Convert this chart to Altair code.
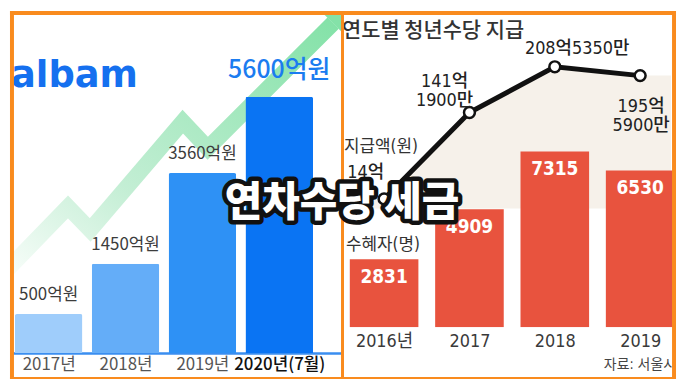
import altair as alt
import pandas as pd

# ---------------- data ----------------
# left panel (알바몬 연차수당 규모)
left_years = ["2017년", "2018년", "2019년", "2020년(7월)"]
left_values = [500, 1450, 3560, 5600]
left_labels = ["500억원", "1450억원", "3560억원", "5600억원"]
left_colors = ["#9fcdfb", "#64adf8", "#2e91f5", "#0a74f3"]

# decorative trend arrow (x in bar-index units, y as share of panel height)
arrow_x = [-0.540, 0.251, 0.540, 1.745, 2.070, 3.701]
arrow_y = [0.244, 0.427, 0.360, 0.677, 0.599, 0.965]
arrow_head_x = [3.832]
arrow_head_y = [0.995]

# right panel (연도별 청년수당 지급)
right_years = ["2016년", "2017", "2018", "2019"]
recipients = [2831, 4909, 7315, 6530]            # 수혜자(명)
amounts = [14, 141.19, 208.535, 195.59]           # 지급액(억원)
amount_labels = ["14억", "141억\n1900만", "208억5350만", "195억\n5900만"]
shade_x = [-0.435, 0, 1, 2, 3, 3.362]
shade_y = [14, 14, 141.19, 208.535, 195.59, 195.59]

KR = "Noto Sans CJK KR"
NARROW = "'Liberation Sans Narrow', 'DejaVu Sans Condensed', 'Noto Sans CJK KR', sans-serif"
ORANGE = "#f98b1e"

# ---------------- left panel ----------------
LW, LH = 334, 344
LX = alt.Scale(domain=[-0.439, 3.752], nice=False, zero=False)
ldf = pd.DataFrame({"i": list(range(4)), "year": left_years, "v": left_values, "lab": left_labels})
ybar_l = alt.Scale(type="pow", exponent=0.78, domain=[0, 8104], nice=False)

lexpr = "[" + ",".join("'%s'" % y for y in left_years) + "][datum.value]"
xaxis_left = alt.Axis(
    orient="bottom", values=[0, 1, 2, 3], labelExpr=lexpr, grid=False, ticks=False,
    domainColor="#3a8ef0", domainWidth=2.5, labelFontSize=17, labelFont=KR,
    labelColor={"condition": {"test": "datum.value == 3", "value": "#111111"}, "value": "#555555"},
    labelFontWeight={"condition": {"test": "datum.value == 3", "value": 500}, "value": 400},
    labelPadding=4, labelOverlap=False, labelBound=False, labelFlush=False,
)


def lx(field, axis=False):
    if axis:
        return alt.X(field, scale=LX, axis=xaxis_left, title=None)
    return alt.X(field, scale=LX, title=None)


adf = pd.DataFrame({"x": arrow_x, "y": arrow_y, "o": list(range(len(arrow_x)))})
grad = alt.Gradient(
    gradient="linear",
    stops=[alt.GradientStop(color="#f7fdf9", offset=0),
           alt.GradientStop(color="#c3eed4", offset=0.35),
           alt.GradientStop(color="#84e2a8", offset=1)],
    x1=0, y1=1, x2=1, y2=0,
)
yarrow = alt.Scale(domain=[0, 1], nice=False)
arrow = alt.Chart(adf).mark_line(strokeWidth=16, clip=True, strokeJoin="miter", strokeCap="butt", color=grad).encode(
    x=lx("x:Q"),
    y=alt.Y("y:Q", scale=yarrow, axis=None),
    order="o:Q",
)
head = alt.Chart(pd.DataFrame({"x": arrow_head_x, "y": arrow_head_y})).mark_point(
    shape="triangle-up", filled=True, size=1156, angle=45, color="#84e2a8", opacity=1, clip=True
).encode(x=lx("x:Q"), y=alt.Y("y:Q", scale=yarrow, axis=None))

bars_l = alt.Chart(ldf).mark_bar(size=68, cornerRadiusTopLeft=2, cornerRadiusTopRight=2).encode(
    x=lx("i:Q", axis=True),
    y=alt.Y("v:Q", scale=ybar_l, axis=None),
    color=alt.Color("year:N", scale=alt.Scale(domain=left_years, range=left_colors), legend=None),
)
labs_l = alt.Chart(ldf).transform_filter("datum.i < 3").mark_text(
    baseline="middle", dy=-19, fontSize=17, font=KR, color="#3c3c3c"
).encode(x=lx("i:Q"), y=alt.Y("v:Q", scale=ybar_l, axis=None), text="lab:N")
big_l = alt.Chart(ldf).transform_filter("datum.i == 3").mark_text(
    baseline="middle", dy=-27, fontSize=25, fontWeight=500, font=KR, color="#1b7cf0"
).encode(x=lx("i:Q"), y=alt.Y("v:Q", scale=ybar_l, axis=None), text="lab:N")

one = pd.DataFrame({"t": ["albam"]})
logo = alt.Chart(one).mark_text(
    align="left", baseline="alphabetic", fontSize=37, fontWeight="bold", font="DejaVu Sans",
    color="#1570ef"
).encode(x=alt.value(1), y=alt.value(76), text="t:N")

dummy = pd.DataFrame({"a": [0]})
fl1 = alt.Chart(dummy).mark_rule(color=ORANGE, strokeWidth=4).encode(x=alt.value(2), y=alt.value(0), y2=alt.value(370))
fl2 = alt.Chart(dummy).mark_rule(color=ORANGE, strokeWidth=4).encode(x=alt.value(0), x2=alt.value(LW), y=alt.value(2))
fl3 = alt.Chart(dummy).mark_rule(color=ORANGE, strokeWidth=2).encode(x=alt.value(0), x2=alt.value(LW), y=alt.value(369))

left = alt.layer(arrow, head, bars_l, labs_l, big_l, logo, fl1, fl2, fl3).resolve_scale(
    y="independent"
).properties(width=LW, height=LH)

# ---------------- right panel ----------------
RW, RH = 336, 318
RX = alt.Scale(domain=[-0.435, 3.362], nice=False, zero=False)
rdf = pd.DataFrame({"i": list(range(4)), "year": right_years, "n": recipients,
                    "amt": amounts, "alab": amount_labels})
ybar_r = alt.Scale(domain=[0, 13165], nice=False)
yline = alt.Scale(domain=[-175, 290.6], nice=False, zero=False)

rexpr = "[" + ",".join("'%s'" % y for y in right_years) + "][datum.value]"
xaxis_right = alt.Axis(
    orient="bottom", values=[0, 1, 2, 3], labelExpr=rexpr, grid=False, ticks=False, domain=False,
    labelFontSize=18, labelFont=NARROW, labelColor="#3a3a3a", labelPadding=5,
    labelOverlap=False, labelBound=False, labelFlush=False,
)


def rx(field, axis=False):
    if axis:
        return alt.X(field, scale=RX, axis=xaxis_right, title=None)
    return alt.X(field, scale=RX, title=None)


sdf = pd.DataFrame({"x": shade_x, "y": shade_y})
shade = alt.Chart(sdf).mark_area(color="#f6f1ea").encode(
    x=rx("x:Q"), y=alt.Y("y:Q", scale=yline, axis=None), y2=alt.value(RH)
)
bars_r = alt.Chart(rdf).mark_bar(size=69, color="#e8533e", clip=True).encode(
    x=rx("i:Q", axis=True), y=alt.Y("n:Q", scale=ybar_r, axis=None)
)
labs_r = alt.Chart(rdf).mark_text(
    baseline="middle", dy=18, fontSize=19, fontWeight="bold", font=NARROW, color="white"
).encode(x=rx("i:Q"), y=alt.Y("n:Q", scale=ybar_r, axis=None),
         text=alt.Text("n:Q", format="d"))
line_r = alt.Chart(rdf).mark_line(color="#111111", strokeWidth=5).encode(
    x=rx("i:Q"), y=alt.Y("amt:Q", scale=yline, axis=None)
)
pts_r = alt.Chart(rdf).mark_point(
    shape="circle", filled=True, fill="white", stroke="#111111", strokeWidth=2.5, size=120, opacity=1
).encode(x=rx("i:Q"), y=alt.Y("amt:Q", scale=yline, axis=None))

offsets = [(-18.5, -26), (-25, -31), (22.5, -18), (1, 32)]
amt_layers = []
for k, (ddx, ddy) in enumerate(offsets):
    amt_layers.append(
        alt.Chart(rdf).transform_filter("datum.i == %d" % k).mark_text(
            dx=ddx, dy=ddy, lineBreak="\n", lineHeight=19, fontSize=18, font=NARROW,
            color="#222222", baseline="middle", fontWeight=500
        ).encode(x=rx("i:Q"), y=alt.Y("amt:Q", scale=yline, axis=None), text="alab:N")
    )


def note(txt, x, y, size, color="#333333", align="left", weight=400, font=NARROW):
    return alt.Chart(pd.DataFrame({"t": [txt]})).mark_text(
        align=align, baseline="middle", fontSize=size, color=color, fontWeight=weight, font=font
    ).encode(x=alt.value(x), y=alt.value(y), text="t:N")


title_r = note("연도별 청년수당 지급", 0, 20, 21, "#333333", weight=500, font=KR)
n1 = note("지급액(원)", 2, 137, 17)
n2 = note("수혜자(명)", 4, 235, 17)
src = note("자료: 서울시", RW, 356, 14, "#444444", align="right")

fr1 = alt.Chart(dummy).mark_rule(color=ORANGE, strokeWidth=3).encode(x=alt.value(0.5), y=alt.value(0), y2=alt.value(370))
fr2 = alt.Chart(dummy).mark_rule(color=ORANGE, strokeWidth=4).encode(x=alt.value(0), x2=alt.value(RW), y=alt.value(2))
fr3 = alt.Chart(dummy).mark_rule(color=ORANGE, strokeWidth=4).encode(x=alt.value(RW - 2), y=alt.value(0), y2=alt.value(370))
fr4 = alt.Chart(dummy).mark_rule(color=ORANGE, strokeWidth=2).encode(x=alt.value(0), x2=alt.value(RW), y=alt.value(369))

ov = pd.DataFrame({"t": ["연차수당 세금"]})
ov_stroke = alt.Chart(ov).mark_text(
    align="center", baseline="middle", fontSize=41, fontWeight=900, font=KR,
    color="#111111", stroke="#111111", strokeWidth=9, strokeJoin="round"
).encode(x=alt.value(0), y=alt.value(194), text="t:N")
ov_fill = alt.Chart(ov).mark_text(
    align="center", baseline="middle", fontSize=41, fontWeight=900, font=KR, color="white"
).encode(x=alt.value(0), y=alt.value(194), text="t:N")

right = alt.layer(
    shade, bars_r, labs_r, line_r, pts_r, *amt_layers, title_r, n1, n2, src,
    fr1, fr2, fr3, fr4, ov_stroke, ov_fill
).resolve_scale(y="independent").properties(width=RW, height=RH)

chart = alt.hconcat(left, right, spacing=0, bounds="flush").properties(
    padding=0
).configure_view(stroke=None)

chart.save("out.html", embed_options={"renderer": "svg", "actions": False})
